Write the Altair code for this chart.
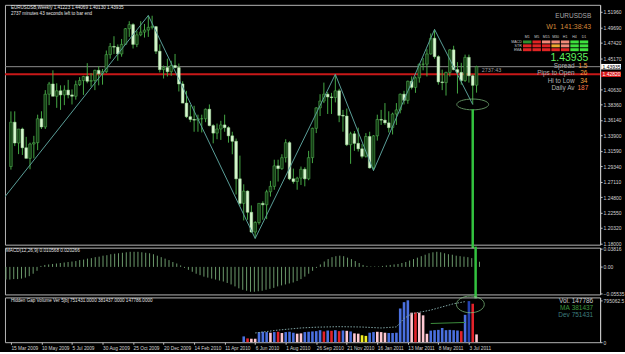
import altair as alt
import pandas as pd

# ---------------- data ----------------
opens = [1.2930, 1.3580, 1.3275, 1.3480, 1.3205, 1.3050, 1.3260, 1.3280, 1.3630, 1.3510,
         1.3990, 1.4140, 1.3960, 1.4040, 1.3980, 1.4050, 1.3980, 1.3960, 1.4130, 1.4190,
         1.4250, 1.4180, 1.4190, 1.4340, 1.4290, 1.4320, 1.4570, 1.4690, 1.4680, 1.4580,
         1.4720, 1.4950, 1.5010, 1.4720, 1.4860, 1.4900, 1.4930, 1.4970, 1.4980, 1.4620,
         1.4350, 1.4380, 1.4320, 1.4410, 1.4380, 1.4140, 1.3860, 1.3660, 1.3620, 1.3610,
         1.3630, 1.3630, 1.3770, 1.3530, 1.3420, 1.3480, 1.3540, 1.3500, 1.3380, 1.3300,
         1.2750, 1.2390, 1.2570, 1.2260, 1.1970, 1.2110, 1.2390, 1.2370, 1.2560, 1.2640,
         1.2940, 1.2900, 1.3060, 1.3280, 1.2750, 1.2710, 1.2760, 1.2890, 1.2750, 1.3060,
         1.3490, 1.3790, 1.3890, 1.3990, 1.3950, 1.3940, 1.4040, 1.3680, 1.3670, 1.3250,
         1.3410, 1.3270, 1.3190, 1.3080, 1.3370, 1.2910, 1.3380, 1.3620, 1.3610, 1.3570,
         1.3500, 1.3700, 1.3760, 1.3990, 1.3900, 1.4180, 1.4090, 1.4230, 1.4430, 1.4430,
         1.4580, 1.4810, 1.4540, 1.4170, 1.4160, 1.4310, 1.4640, 1.4350, 1.4310, 1.4190,
         1.4530, 1.4260, 1.41223]
highs = [1.3738, 1.3739, 1.3480, 1.3500, 1.3365, 1.3280, 1.3380, 1.3690, 1.3740, 1.4050,
         1.4170, 1.4340, 1.4150, 1.4120, 1.4120, 1.4200, 1.4060, 1.4190, 1.4240, 1.4260,
         1.4445, 1.4300, 1.4350, 1.4400, 1.4360, 1.4630, 1.4740, 1.4840, 1.4720, 1.4800,
         1.4960, 1.5060, 1.5030, 1.4920, 1.5060, 1.5020, 1.5144, 1.5140, 1.4990, 1.4720,
         1.4410, 1.4510, 1.4480, 1.4580, 1.4440, 1.4180, 1.4040, 1.3830, 1.3820, 1.3690,
         1.3690, 1.3780, 1.3840, 1.3550, 1.3560, 1.3600, 1.3690, 1.3520, 1.3440, 1.3340,
         1.3090, 1.2670, 1.2580, 1.2360, 1.2130, 1.2390, 1.2420, 1.2590, 1.2720, 1.3030,
         1.3030, 1.3110, 1.3330, 1.3300, 1.2900, 1.2780, 1.2930, 1.2920, 1.3160, 1.3500,
         1.3800, 1.3990, 1.4160, 1.4020, 1.4010, 1.4282, 1.4070, 1.3760, 1.3780, 1.3440,
         1.3450, 1.3500, 1.3260, 1.3420, 1.3440, 1.3390, 1.3690, 1.3760, 1.3860, 1.3740,
         1.3720, 1.3860, 1.4000, 1.4040, 1.4190, 1.4250, 1.4250, 1.4440, 1.4520, 1.4650,
         1.4880, 1.4940, 1.4560, 1.4350, 1.4320, 1.4650, 1.4700, 1.4460, 1.4450, 1.4570,
         1.4570, 1.4280, 1.44069]
lows = [1.2885, 1.3230, 1.3112, 1.3100, 1.3050, 1.2890, 1.3050, 1.3170, 1.3480, 1.3480,
        1.3830, 1.3960, 1.3790, 1.3760, 1.3830, 1.3930, 1.3840, 1.3910, 1.4110, 1.3980,
        1.4150, 1.4100, 1.4050, 1.4120, 1.4130, 1.4300, 1.4510, 1.4580, 1.4480, 1.4540,
        1.4710, 1.4830, 1.4660, 1.4680, 1.4840, 1.4820, 1.4830, 1.4940, 1.4580, 1.4310,
        1.4220, 1.4250, 1.4260, 1.4370, 1.4030, 1.3860, 1.3640, 1.3580, 1.3440, 1.3440,
        1.3430, 1.3580, 1.3520, 1.3270, 1.3330, 1.3320, 1.3440, 1.3280, 1.3110, 1.2520,
        1.2350, 1.2140, 1.2150, 1.1960, 1.1876, 1.2080, 1.2150, 1.2160, 1.2490, 1.2590,
        1.2710, 1.2880, 1.2990, 1.2730, 1.2680, 1.2590, 1.2660, 1.2640, 1.2730, 1.2980,
        1.3420, 1.3670, 1.3860, 1.3700, 1.3700, 1.3870, 1.3580, 1.3440, 1.3230, 1.2970,
        1.3160, 1.3150, 1.3050, 1.3060, 1.2900, 1.2870, 1.3310, 1.3540, 1.3540, 1.3430,
        1.3400, 1.3540, 1.3710, 1.3840, 1.3850, 1.4060, 1.4010, 1.4160, 1.4340, 1.4250,
        1.4570, 1.4510, 1.4130, 1.4050, 1.3970, 1.4250, 1.4340, 1.4000, 1.4130, 1.4170,
        1.4160, 1.3840, 1.40130]
closes = [1.3580, 1.3275, 1.3480, 1.3205, 1.3050, 1.3260, 1.3280, 1.3630, 1.3510, 1.3990,
          1.4140, 1.3960, 1.4040, 1.3980, 1.4050, 1.3980, 1.3960, 1.4130, 1.4190, 1.4250,
          1.4180, 1.4190, 1.4340, 1.4290, 1.4320, 1.4570, 1.4690, 1.4680, 1.4580, 1.4720,
          1.4950, 1.5010, 1.4720, 1.4860, 1.4900, 1.4930, 1.4970, 1.4980, 1.4620, 1.4350,
          1.4380, 1.4320, 1.4410, 1.4380, 1.4140, 1.3860, 1.3660, 1.3620, 1.3610, 1.3630,
          1.3630, 1.3770, 1.3530, 1.3420, 1.3480, 1.3540, 1.3500, 1.3380, 1.3300, 1.2750,
          1.2390, 1.2570, 1.2260, 1.1970, 1.2110, 1.2390, 1.2370, 1.2560, 1.2640, 1.2940,
          1.2900, 1.3060, 1.3280, 1.2750, 1.2710, 1.2760, 1.2890, 1.2750, 1.3060, 1.3490,
          1.3790, 1.3890, 1.3990, 1.3950, 1.3940, 1.4040, 1.3680, 1.3670, 1.3250, 1.3410,
          1.3270, 1.3190, 1.3080, 1.3370, 1.2910, 1.3380, 1.3620, 1.3610, 1.3570, 1.3500,
          1.3700, 1.3760, 1.3990, 1.3900, 1.4180, 1.4090, 1.4230, 1.4430, 1.4430, 1.4580,
          1.4810, 1.4540, 1.4170, 1.4160, 1.4310, 1.4640, 1.4350, 1.4310, 1.4190, 1.4530,
          1.4260, 1.4120, 1.43935]

date_labels = ["15 Mar 2009", "10 May 2009", "5 Jul 2009", "30 Aug 2009", "25 Oct 2009",
               "20 Dec 2009", "14 Feb 2010", "11 Apr 2010", "6 Jun 2010", "1 Aug 2010",
               "26 Sep 2010", "21 Nov 2010", "16 Jan 2011", "13 Mar 2011", "8 May 2011",
               "3 Jul 2011"]
date_ticks = [0, 8, 16, 24, 32, 40, 48, 56, 64, 72, 80, 88, 96, 104, 112, 120]

price_ticks = [1.51960, 1.49690, 1.47420, 1.45170, 1.40630, 1.38360, 1.36140, 1.33900,
               1.31590, 1.29340, 1.27110, 1.24800, 1.22550, 1.20320, 1.18000]
bid_price = 1.43935
level_price = 1.42820

zigzag_idx = [-2, 36, 64, 85, 95, 111, 121]
zigzag_price = [1.2457, 1.5144, 1.1876, 1.4282, 1.2870, 1.4940, 1.3840]
marker_idx = 121

macd_values = [-0.026, -0.026, -0.025, -0.025, -0.024, -0.022, -0.019, -0.014, -0.008, 0.002,
               0.004, 0.005, 0.006, 0.007, 0.008, 0.009, 0.010, 0.011, 0.012, 0.014,
               0.015, 0.017, 0.018, 0.020, 0.021, 0.023, 0.024, 0.026, 0.027, 0.028,
               0.029, 0.030, 0.031, 0.031, 0.031, 0.030, 0.029, 0.028, 0.026, 0.023,
               0.020, 0.017, 0.014, 0.010, 0.007, 0.003, -0.002, -0.006, -0.010, -0.014,
               -0.017, -0.020, -0.022, -0.024, -0.026, -0.028, -0.030, -0.033, -0.036, -0.040,
               -0.044, -0.047, -0.049, -0.051, -0.051, -0.050, -0.049, -0.047, -0.045, -0.043,
               -0.040, -0.038, -0.036, -0.034, -0.032, -0.029, -0.025, -0.020, -0.014, -0.008,
               -0.002, 0.005, 0.011, 0.016, 0.020, 0.022, 0.023, 0.022, 0.019, 0.016,
               0.012, 0.008, 0.004, 0.002, 0.001, 0.001, 0.001, 0.002, 0.003, 0.004,
               0.005, 0.006, 0.008, 0.010, 0.013, 0.016, 0.019, 0.022, 0.025, 0.028,
               0.030, 0.031, 0.030, 0.028, 0.026, 0.025, 0.023, 0.022, 0.021, 0.020,
               0.018, 0.015, 0.0106]
macd_ticks = [0.03816, 0.0, -0.05535]

vol_start = 61
volumes = [110000, 72000, 66000, 66000, 192000, 198000, 192000, 180000, 192000, 198000,
           174000, 192000, 198000, 180000, 162000, 168000, 192000, 198000, 204000, 210000,
           228000, 204000, 222000, 216000, 228000, 210000, 222000, 216000, 204000, 168000,
           162000, 132000, 120000, 180000, 192000, 198000, 192000, 180000, 174000, 174000,
           180000, 640000, 760000, 795062, 560000, 565000, 560000, 510000, 160000, 220000,
           228000, 234000, 270000, 228000, 234000, 228000, 222000, 210000, 520000, 780000,
           730000, 147786]
vol_kinds = ["B", "R", "P", "P", "B", "B", "B", "P", "B", "R",
             "P", "B", "B", "B", "P", "P", "B", "B", "B", "B",
             "B", "R", "B", "R", "B", "R", "B", "P", "B", "P",
             "P", "Y", "Y", "B", "B", "P", "P", "P", "B", "B",
             "B", "B", "B", "B", "P", "R", "P", "P", "P", "B",
             "B", "B", "B", "B", "B", "B", "B", "R", "B", "N",
             "R", "P"]
dev_idx = [64, 70, 76, 80, 86, 92, 97, 101, 103, 105, 110, 116, 119]
dev_values = [175000, 230000, 270000, 285000, 295000, 288000, 270000, 290000, 450000,
              540000, 610000, 730000, 770000]
ma_idx = [110, 119]
ma_values = [355000, 375000]
vol_ticks = [0, 795062.5]

grid_cols = ["M1", "M5", "M15", "M30", "H1", "H4", "D1"]
grid_rows = ["MACD", "STR", "EMA"]
grid_colors = [["#2f8f2f", "#e02424", "#f08878", "#f08878", "#f08878", "#3ee03e", "#3ee03e"],
               ["#e02424", "#e02424", "#e02424", "#f0a830", "#f08878", "#3ee03e", "#3ee03e"],
               ["#e02424", "#e02424", "#e02424", "#e02424", "#e02424", "#3ee03e", "#3ee03e"]]

# ---------------- layout ----------------
PAD_L, PAD_T = 3, 3
W = 598
H_MAIN, H_MACD, H_VOL = 241, 47, 45
SP = 3
BAR_PX = 3.9
X0 = -1.0 / BAR_PX
X_DOM = [X0, X0 + W / BAR_PX]
Y_MAIN = [1.1785, 1.5300]
Y_MACD = [-0.0565, 0.0395]
Y_VOL = [0.0, 850000.0]
MACD_TOP = PAD_T + H_MAIN + SP
VOL_TOP = MACD_TOP + H_MACD + SP
FONT = "Liberation Sans"


def ix(px):
    return X_DOM[0] + (px - PAD_L) / W * (X_DOM[1] - X_DOM[0])


def yv(py, top, h, dom):
    return dom[1] - (py - top) / h * (dom[1] - dom[0])


def ym(py):
    return yv(py, PAD_T, H_MAIN, Y_MAIN)


def ymacd(py):
    return yv(py, MACD_TOP, H_MACD, Y_MACD)


def yvol(py):
    return yv(py, VOL_TOP, H_VOL, Y_VOL)


xs = alt.Scale(domain=X_DOM, nice=False, zero=False)
ax_main = alt.Axis(orient="right", values=price_ticks, format=".5f", grid=False,
                   tickSize=2, labelPadding=1, labelFontSize=5, title=None)
ax_macd = alt.Axis(orient="right", values=macd_ticks, grid=False, tickSize=2, labelPadding=1,
                   labelFontSize=5, title=None,
                   labelExpr="datum.value == 0 ? '0.00' : format(datum.value, '.5f')")
ax_vol = alt.Axis(orient="right", values=vol_ticks, grid=False, tickSize=2, labelPadding=1,
                  labelFontSize=5, title=None,
                  labelExpr="datum.value == 0 ? '0' : format(datum.value, '.1f')")
label_arr = "[" + ",".join("'" + d + "'" for d in date_labels) + "]"
ax_date = alt.Axis(values=date_ticks, grid=False, tickSize=2, labelPadding=1, labelFontSize=4.8,
                   labelAlign="left", labelFlush=False, labelOverlap=False, domain=False,
                   title=None, labelExpr=label_arr + "[round(datum.value / 8)]")


def XN(f):
    return alt.X(f + ":Q", scale=xs, axis=None)


def XD(f):
    return alt.X(f + ":Q", scale=xs, axis=ax_date)


def YM(f):
    return alt.Y(f + ":Q", scale=alt.Scale(domain=Y_MAIN, nice=False, zero=False), axis=ax_main)


def YC(f):
    return alt.Y(f + ":Q", scale=alt.Scale(domain=Y_MACD, nice=False, zero=False), axis=ax_macd)


def YV(f):
    return alt.Y(f + ":Q", scale=alt.Scale(domain=Y_VOL, nice=False, zero=True), axis=ax_vol)


def texts(rows, align, XF, YF, yconv):
    df = pd.DataFrame(rows, columns=["px", "py", "t", "c", "s"])
    df["x"] = [ix(p) for p in df["px"]]
    df["y"] = [yconv(p) for p in df["py"]]
    return alt.Chart(df).mark_text(align=align, baseline="middle", font=FONT).encode(
        x=XF("x"), y=YF("y"), text="t:N",
        color=alt.Color("c:N", scale=None), size=alt.Size("s:Q", scale=None))


ELL_MAIN = "M -1 0 A 1 0.34 0 1 1 1 0 A 1 0.34 0 1 1 -1 0 Z"
ELL_VOL = "M -1 0 A 1 0.6 0 1 1 1 0 A 1 0.6 0 1 1 -1 0 Z"

# ---------------- main price panel ----------------
n = len(closes)
cd = pd.DataFrame({"idx": list(range(n)), "open": opens, "high": highs, "low": lows, "close": closes})
cd["lo"] = cd[["open", "close"]].min(axis=1)
cd["hi"] = cd[["open", "close"]].max(axis=1)
up = cd["close"] >= cd["open"]
cd["fill"] = ["#143f14" if u else "#d6f6cf" for u in up]
cd["stroke"] = ["#5cbf5c" if u else "#a8e2a0" for u in up]

lines_df = pd.DataFrame({"p": [bid_price]})
level_df = pd.DataFrame({"p": [level_price]})
bid_line = alt.Chart(lines_df).mark_rule(color="#8c8c8c", strokeWidth=1).encode(y=YM("p"))
level_line = alt.Chart(level_df).mark_rule(color="#c81818", strokeWidth=2).encode(y=YM("p"))
wicks = alt.Chart(cd).mark_rule(color="#45a845", strokeWidth=1).encode(x=XN("idx"), y=YM("low"), y2="high")
bodies = alt.Chart(cd).mark_bar(size=2.7, strokeWidth=0.5).encode(
    x=XN("idx"), y=YM("lo"), y2="hi",
    fill=alt.Fill("fill:N", scale=None), stroke=alt.Stroke("stroke:N", scale=None))
zz = alt.Chart(pd.DataFrame({"idx": zigzag_idx, "p": zigzag_price})).mark_line(
    color="#5a9e98", strokeWidth=1, clip=True).encode(x=XN("idx"), y=YM("p"), order="idx:Q")
mk = pd.DataFrame({"idx": [marker_idx], "p": [lows[marker_idx]], "top": [ym(108)], "bot": [ym(247.5)]})
ell_main = alt.Chart(mk).mark_point(shape=ELL_MAIN, size=1024, filled=False, color="#86c886",
                                    strokeWidth=1).encode(x=XN("idx"), y=YM("p"))
vline_main = alt.Chart(mk).mark_rule(color="#33c23f", strokeWidth=2.5).encode(
    x=XN("idx"), y=YM("top"), y2="bot")

cells = []
for r, rn in enumerate(grid_rows):
    for c, cn in enumerate(grid_cols):
        x1 = 527.3 + 9.67 * c
        y1 = 38.8 + 3.9 * r
        cells.append({"x1": ix(x1), "x2": ix(x1 + 8.6), "y1": ym(y1), "y2": ym(y1 + 3.0),
                      "col": grid_colors[r][c]})
grid = alt.Chart(pd.DataFrame(cells)).mark_rect().encode(
    x=XN("x1"), x2="x2", y=YM("y1"), y2="y2", color=alt.Color("col:N", scale=None))

t_left = texts([
    (4, 6, "EURUSDSB,Weekly  1.41223 1.44069 1.40130 1.43935", "#e6e6e6", 4.6),
    (4, 12, "2737 minutes 43 seconds left to bar end", "#e6e6e6", 4.6),
    (551, 25, "W1", "#d4883a", 7),
    (485, 68.5, "2737:43", "#9a9a9a", 5.5),
], "left", XN, YM, ym)
t_right = texts([
    (597, 14.5, "EURUSDSB", "#a8a8a8", 6.5),
    (597, 25, "141:38:43", "#d4883a", 7),
    (594, 56.5, "1.43935", "#5ef05e", 10.5),
    (580, 64.5, "Spread", "#b0b0b0", 6.5),
    (593, 64.5, "1.5", "#f0a040", 6.5),
    (580, 72, "Pips to Open", "#b0b0b0", 6.5),
    (593, 72, "26", "#f0a040", 6.5),
    (580, 79.5, "Hi to Low", "#b0b0b0", 6.5),
    (593, 79.5, "34", "#f0a040", 6.5),
    (580, 87, "Daily Av", "#b0b0b0", 6.5),
    (594, 87, "187", "#ff7848", 6.5),
] + [(526, 40.3 + 3.9 * r, rn, "#c8c8c8", 3.6) for r, rn in enumerate(grid_rows)],
    "right", XN, YM, ym)
t_center = texts([(531.6 + 9.67 * c, 35.3, cn, "#c8c8c8", 3.6) for c, cn in enumerate(grid_cols)],
                 "center", XN, YM, ym)

box_df = pd.DataFrame({"p": [bid_price, level_price], "t": ["1.43935", "1.42820"],
                       "bg": ["#ffffff", "#d81818"], "fg": ["#000000", "#ffffff"]})
box_df["top"] = box_df["p"] + 0.0040
box_df["bot"] = box_df["p"] - 0.0040
boxes = alt.Chart(box_df).mark_rect().encode(
    x=alt.value(W + 1), x2=alt.value(W + 21), y=YM("top"), y2="bot",
    color=alt.Color("bg:N", scale=None))
box_text = alt.Chart(box_df).mark_text(align="left", baseline="middle", font=FONT, fontSize=5).encode(
    x=alt.value(W + 2.5), y=YM("p"), text="t:N", color=alt.Color("fg:N", scale=None))

main = alt.layer(bid_line, level_line, wicks, bodies, zz, ell_main, vline_main, grid,
                 t_left, t_right, t_center, boxes, box_text).properties(width=W, height=H_MAIN)

# ---------------- MACD panel ----------------
md = pd.DataFrame({"idx": list(range(n)), "macd": macd_values, "zero": [0.0] * n})
macd_bars = alt.Chart(md).mark_rule(color="#6c9a6c", strokeWidth=1).encode(
    x=XN("idx"), y=YC("macd"), y2="zero")
mk2 = pd.DataFrame({"idx": [marker_idx], "top": [ymacd(MACD_TOP - 1)], "bot": [ymacd(VOL_TOP + 1)]})
vline_macd = alt.Chart(mk2).mark_rule(color="#33c23f", strokeWidth=2.5).encode(
    x=XN("idx"), y=YC("top"), y2="bot")
t_macd = texts([(4, 250.5, "MACD(12,26,9) 0.010568 0.020266", "#e0e0e0", 4.7)],
               "left", XN, YC, ymacd)
macd = alt.layer(macd_bars, vline_macd, t_macd).properties(width=W, height=H_MACD)

# ---------------- volume panel ----------------
palette = {"B": "#4a70e0", "R": "#e2222a", "P": "#ffc8d2", "Y": "#f2ee22", "N": "#2442b4"}
vd = pd.DataFrame({"idx": list(range(vol_start, vol_start + len(volumes))), "vol": volumes,
                   "hex": [palette[k] for k in vol_kinds]})
vol_bars = alt.Chart(vd).mark_bar(size=2.6).encode(
    x=XD("idx"), y=YV("vol"), color=alt.Color("hex:N", scale=None))
dev_line = alt.Chart(pd.DataFrame({"idx": dev_idx, "v": dev_values})).mark_line(
    color="#7fa3a3", strokeWidth=1, strokeDash=[1.5, 1.5]).encode(x=XD("idx"), y=YV("v"))
ma_line = alt.Chart(pd.DataFrame({"idx": ma_idx, "v": ma_values})).mark_line(
    color="#3c8c3c", strokeWidth=1).encode(x=XD("idx"), y=YV("v"))
ell_vol = alt.Chart(pd.DataFrame({"x": [ix(473.5)], "y": [yvol(304)]})).mark_point(
    shape=ELL_VOL, size=784, filled=False, color="#86c886", strokeWidth=1).encode(
    x=XD("x"), y=YV("y"))
t_vol_l = texts([(4, 301, "Hidden Gap Volume Ver 5[b] 751431.0000 381437.0000 147786.0000",
                  "#e0e0e0", 4.6)], "left", XD, YV, yvol)
t_vol_r = texts([
    (575, 300.5, "Vol.", "#c8c8c8", 6.5), (599, 300.5, "147786", "#c8c8c8", 6.5),
    (575, 307.5, "MA", "#3c963c", 6.5), (599, 307.5, "381437", "#3c963c", 6.5),
    (575, 314.5, "Dev", "#3f7f7f", 6.5), (599, 314.5, "751431", "#3f7f7f", 6.5),
], "right", XD, YV, yvol)
vol = alt.layer(vol_bars, dev_line, ma_line, ell_vol, t_vol_l, t_vol_r).properties(width=W, height=H_VOL)

chart = alt.vconcat(main, macd, vol, spacing=SP, bounds="flush").properties(
    background="#000000",
    padding={"left": PAD_L, "top": PAD_T, "right": 0, "bottom": 0},
).configure_view(stroke="#b4b4b4", strokeWidth=1).configure_axis(
    labelFont=FONT, labelColor="#d2d2d2", domainColor="#c8c8c8", tickColor="#c8c8c8")

chart.save("out.html", embed_options={"renderer": "svg", "actions": False})
